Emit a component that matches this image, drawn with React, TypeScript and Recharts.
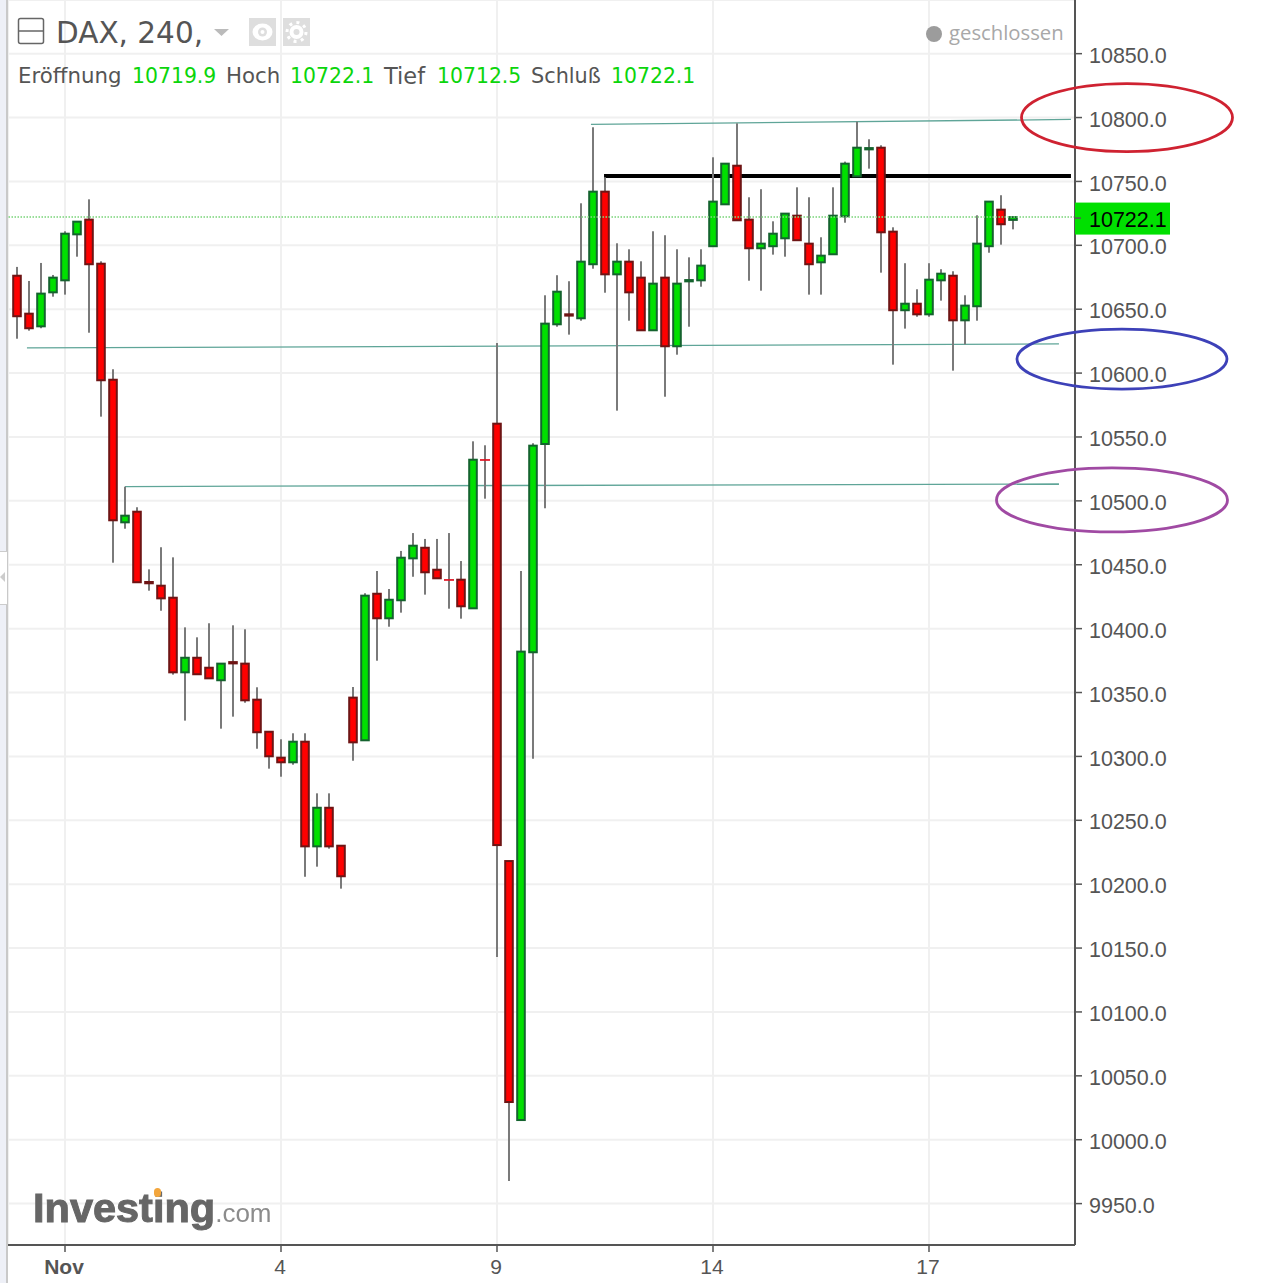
import React from "react";
import {
  Bar,
  CartesianGrid,
  ComposedChart,
  ReferenceDot,
  ReferenceLine,
  XAxis,
  YAxis,
} from "recharts";

const opens = [
  10676.2, 10646.5, 10636.6, 10663.2, 10672.6, 10708.6, 10720.1, 10685.6, 10594.8, 10483.2,
  10491.5, 10436.5, 10433.6, 10424.2, 10365.8, 10377.2, 10369.4, 10359.6, 10373.8, 10372.6,
  10344.4, 10319.3, 10299, 10295.4, 10311.5, 10229.6, 10259.8, 10230.1, 10346, 10312.6,
  10427.3, 10408.1, 10422.2, 10455, 10463.3, 10446.1, 10438.1, 10438.3, 10415.9, 10532,
  10560.4, 10218.1, 10015.4, 10381.5, 10544.5, 10638.2, 10646, 10642.9, 10685.2, 10742,
  10677.3, 10687.2, 10674.7, 10633.5, 10674.7, 10621, 10671.8, 10672.6, 10699.3, 10732.1,
  10762.3, 10720.1, 10697.7, 10699.3, 10705.5, 10723.2, 10701.3, 10686.7, 10693, 10722.7,
  10754, 10775.1, 10776.4, 10710.7, 10649.2, 10654.3, 10646, 10672.6, 10676.2, 10641.3,
  10652.3, 10699.3, 10727.9, 10719.9,
];
const closes = [
  10644.5, 10635.1, 10662.2, 10674.7, 10709.1, 10718.5, 10685.2, 10594.4, 10484.8, 10488.4,
  10436.3, 10435.5, 10423.7, 10365.8, 10377.2, 10364.3, 10361.1, 10372.6, 10372.8, 10343.9,
  10318.9, 10300.1, 10295.4, 10311.5, 10229.6, 10259.8, 10229.6, 10206.2, 10311, 10425.8,
  10408.1, 10422.6, 10455.5, 10464.9, 10444.1, 10439.4, 10438.1, 10417.5, 10532.2, 10532,
  10230.6, 10029.5, 10382, 10543.2, 10638.7, 10663.7, 10645, 10687.2, 10742, 10677.3,
  10687.2, 10663.2, 10633.5, 10670, 10621, 10670, 10672.8, 10684.1, 10734.2, 10763.9,
  10719.6, 10697.7, 10701.3, 10709.1, 10724.8, 10704, 10685.2, 10691.9, 10723.2, 10763.9,
  10776.4, 10776.1, 10710.2, 10649.2, 10654.3, 10646, 10673.1, 10677.8, 10641.3, 10652.8,
  10701.3, 10734.2, 10716.5, 10722.1,
];
const highs = [
  10683.1, 10672.1, 10686.2, 10676.8, 10711, 10718.5, 10736, 10687.5, 10603, 10511.1,
  10495, 10446.4, 10463.7, 10455.8, 10401, 10393.2, 10404.2, 10372.6, 10402.6, 10399.5,
  10354.1, 10319.3, 10313.4, 10318.1, 10318.1, 10271.1, 10271.1, 10230.1, 10354.3, 10427.7,
  10445.1, 10431, 10460.8, 10474.8, 10470.2, 10470.2, 10474.8, 10452.9, 10546.6, 10543.5,
  10623.6, 10218.1, 10445.1, 10545.1, 10660.9, 10676.6, 10671.9, 10732.9, 10792.4, 10753.3,
  10701.6, 10696.9, 10687.5, 10711, 10707.9, 10696.9, 10690.6, 10696.9, 10768.9, 10763.9,
  10795.5, 10737.6, 10743.9, 10718.8, 10724.8, 10745.4, 10737.6, 10706.3, 10745.4, 10765.5,
  10796.8, 10783, 10778.3, 10714.1, 10686, 10665.6, 10686, 10681.3, 10679.7, 10660.9,
  10723.5, 10734.2, 10739.2, 10722.1,
];
const lows = [
  10626.9, 10633.2, 10635.1, 10659.8, 10661.4, 10691.1, 10631.6, 10565.9, 10451.6, 10478.2,
  10436, 10429.7, 10414, 10364, 10328, 10364.3, 10361.1, 10321.7, 10331.1, 10342,
  10306, 10290.4, 10284.1, 10293.5, 10205.8, 10213.7, 10227.8, 10196.5, 10296.6, 10312.6,
  10374.9, 10401.5, 10412.5, 10440.6, 10426.6, 10439.4, 10415.6, 10407.8, 10415.9, 10501.7,
  10143, 9967.7, 10015.4, 10298.2, 10494.2, 10636.3, 10630.1, 10641, 10681.7, 10662.9,
  10570.6, 10641, 10633.5, 10633.5, 10581.5, 10614.4, 10636.3, 10667.6, 10699.3, 10732.1,
  10719.6, 10672.3, 10664.5, 10692.7, 10691.1, 10704, 10661.4, 10661.4, 10693, 10717.7,
  10754, 10760, 10678.6, 10606.6, 10634.8, 10644.1, 10644.1, 10656.7, 10601.9, 10622.5,
  10641, 10694.2, 10700.5, 10712.5,
];

const priceTicks = [
  9950, 10000, 10050, 10100, 10150, 10200, 10250, 10300, 10350, 10400, 10450, 10500, 10550,
  10600, 10650, 10700, 10750, 10800, 10850,
];
const dateTicks = [4, 22, 40, 58, 76];
const dateLabels = ["Nov", "4", "9", "14", "17"];
const lastPrice = 10722.1;

const candles = opens.map((open, i) => ({
  i,
  open,
  close: closes[i],
  high: highs[i],
  low: lows[i],
}));

const GREY = "#555";
const AXIS_FONT = "'Liberation Sans', Arial, sans-serif";
const HEADER_FONT = "'DejaVu Sans', sans-serif";

const Candle = (props: any) => {
  const { x, y, width, height, payload } = props;
  const cx = x + width / 2;
  const perUnit = height / (payload.high - payload.low);
  const top = y + (payload.high - Math.max(payload.open, payload.close)) * perUnit;
  const bottom = y + (payload.high - Math.min(payload.open, payload.close)) * perUnit;
  const up = payload.close > payload.open;
  return (
    <g>
      <line x1={cx} x2={cx} y1={y} y2={y + height} stroke="#7a7a7a" strokeWidth={2} />
      {payload.open === payload.close ? (
        <line x1={cx - 5} x2={cx + 5} y1={top} y2={top} stroke="#e01020" strokeWidth={1.7} />
      ) : (
        <rect
          x={cx - 3.8}
          y={top}
          width={7.6}
          height={bottom - top}
          fill={up ? "#00e000" : "#ff0000"}
          stroke={up ? "#14632e" : "#6e1414"}
          strokeWidth={2}
        />
      )}
    </g>
  );
};

const PriceTick = ({ x, y, payload }: any) => (
  <text x={x} y={y + 1.5} dy=".355em" fill={GREY} fontSize={21.5} fontFamily={AXIS_FONT}>
    {payload.value.toFixed(1)}
  </text>
);

const DateTick = ({ x, y, payload, index }: any) => (
  <text
    x={x - 1}
    y={y + 13}
    dy=".355em"
    textAnchor="middle"
    fill={GREY}
    fontSize={21}
    fontWeight={index === 0 ? 700 : 400}
    fontFamily={AXIS_FONT}
  >
    {dateLabels[dateTicks.indexOf(payload.value)]}
  </text>
);

const Ring = ({ color, rx, ry }: { color: string; rx: number; ry: number }) => (props: any) => (
  <ellipse cx={props.cx} cy={props.cy} rx={rx} ry={ry} fill="none" stroke={color} strokeWidth={2.8} />
);

const PriceTag = (props: any) => (
  <g>
    <rect x={props.cx} y={props.cy - 14.5} width={95} height={32} fill="#00e000" />
    <line x1={props.cx} x2={props.cx + 6} y1={props.cy + 1} y2={props.cy + 1} stroke={GREY} strokeWidth={1.5} />
    <text x={props.cx + 14} y={props.cy + 2.5} dy=".355em" fill="#000" fontSize={21.5} fontFamily={AXIS_FONT}>
      {lastPrice.toFixed(1)}
    </text>
  </g>
);

const legendItems = [
  { left: 18, text: "Eröffnung", color: GREY, size: 21.3 },
  { left: 132, text: "10719.9", color: "#0bd50b", size: 20.4 },
  { left: 226, text: "Hoch", color: GREY, size: 21.3 },
  { left: 290, text: "10722.1", color: "#0bd50b", size: 20.4 },
  { left: 384, text: "Tief", color: GREY, size: 22.5 },
  { left: 437, text: "10712.5", color: "#0bd50b", size: 20.4 },
  { left: 531, text: "Schluß", color: GREY, size: 20.8 },
  { left: 611, text: "10722.1", color: "#0bd50b", size: 20.4 },
];

const Header = () => (
  <>
    <svg style={{ position: "absolute", left: 0, top: 0 }} width={330} height={56}>
      <rect x={18.5} y={18.5} width={25} height={25} rx={2} fill="#fff" stroke="#666" strokeWidth={1.5} />
      <line x1={19} x2={43} y1={31} y2={31} stroke="#666" strokeWidth={1.5} />
      <path d="M214 29 L229 29 L221.5 36 Z" fill="#bbb" />
      <rect x={249} y={18} width={27} height={28} fill="#dedede" />
      <ellipse cx={262.5} cy={32} rx={10} ry={8.5} fill="#fff" />
      <circle cx={262.5} cy={32} r={4.5} fill="#dedede" />
      <circle cx={262.5} cy={32} r={2} fill="#fff" />
      <rect x={283} y={18} width={27} height={28} fill="#dedede" />
      <circle cx={296.5} cy={32} r={7} fill="#fff" />
      <circle cx={296.5} cy={32} r={9.5} fill="none" stroke="#fff" strokeWidth={3} strokeDasharray="3 4.4" />
      <circle cx={296.5} cy={32} r={3} fill="#dedede" />
    </svg>
    <div style={{ position: "absolute", left: 56, top: 16, fontFamily: HEADER_FONT, fontSize: 29.5, color: GREY, whiteSpace: "pre" }}>
      DAX, 240,
    </div>
    {legendItems.map((item) => (
      <div
        key={item.left}
        style={{ position: "absolute", left: item.left, top: 63, height: 26, lineHeight: "26px", fontFamily: HEADER_FONT, fontSize: item.size, color: item.color, whiteSpace: "pre" }}
      >
        {item.text}
      </div>
    ))}
    <div style={{ position: "absolute", left: 926, top: 26, width: 16, height: 16, borderRadius: 8, background: "#9c9c9c" }} />
    <div style={{ position: "absolute", left: 949, top: 18, fontFamily: "'Open Sans', sans-serif", fontSize: 20.3, color: "#a8a8a8", whiteSpace: "pre" }}>
      geschlossen
    </div>
  </>
);

const Watermark = () => (
  <div style={{ position: "absolute", left: 33, top: 1184, whiteSpace: "pre", fontFamily: AXIS_FONT, filter: "blur(0.7px)", lineHeight: "48px" }}>
    <span style={{ fontSize: 41.5, fontWeight: 700, color: "#666", WebkitTextStroke: "1px #666" }}>Investing</span>
    <span style={{ fontSize: 26, color: "#8c8c8c" }}>.com</span>
    <div style={{ position: "absolute", left: 121, top: 4, width: 7, height: 9, borderRadius: 4, background: "#f3a63c" }} />
  </div>
);

const SideRail = () => (
  <>
    <div style={{ position: "absolute", left: 0, top: 0, width: 6, height: 1283, background: "#eef0f7" }} />
    <div style={{ position: "absolute", left: 6, top: 0, width: 2, height: 1283, background: "#c9c9c9" }} />
    <div style={{ position: "absolute", left: 0, top: 551, width: 7, height: 52, background: "#fff", borderTop: "1px solid #ccc", borderBottom: "1px solid #ccc" }} />
    <svg style={{ position: "absolute", left: 0, top: 570 }} width={7} height={14}>
      <path d="M0 7 L5 2 L5 12 Z" fill="#ccc" />
    </svg>
  </>
);

export default function App() {
  return (
    <div style={{ position: "absolute", left: 0, top: 0, width: 1271, height: 1283, background: "#fff", overflow: "hidden" }}>
      <ComposedChart
        width={1271}
        height={1283}
        data={candles}
        margin={{ top: 0, right: 0, bottom: 0, left: 8 }}
      >
        <CartesianGrid stroke="#f0f0f0" strokeWidth={2} />
        <XAxis
          dataKey="i"
          type="number"
          domain={[-0.75, 88.1667]}
          allowDataOverflow
          ticks={dateTicks}
          interval={0}
          height={38}
          tick={DateTick}
          tickSize={7}
          tickMargin={2}
          axisLine={{ stroke: GREY, strokeWidth: 2 }}
          tickLine={{ stroke: GREY, strokeWidth: 1.5 }}
        />
        <YAxis
          orientation="right"
          type="number"
          domain={[9917.6, 10892]}
          allowDataOverflow
          ticks={priceTicks}
          interval={0}
          width={196}
          tick={PriceTick}
          tickSize={7}
          tickMargin={7}
          axisLine={{ stroke: GREY, strokeWidth: 2 }}
          tickLine={{ stroke: GREY, strokeWidth: 1.5 }}
        />
        <ReferenceLine zIndex={50} ifOverflow="visible" stroke="#5fa598" strokeWidth={1.3} segment={[{ x: 47.83, y: 10794.6 }, { x: 87.83, y: 10798.5 }]} />
        <ReferenceLine zIndex={50} ifOverflow="visible" stroke="#5fa598" strokeWidth={1.3} segment={[{ x: 0.83, y: 10619.7 }, { x: 86.83, y: 10622.8 }]} />
        <ReferenceLine zIndex={50} ifOverflow="visible" stroke="#5fa598" strokeWidth={1.3} segment={[{ x: 9, y: 10511.2 }, { x: 86.83, y: 10513.2 }]} />
        <ReferenceLine zIndex={50} ifOverflow="visible" stroke="#000" strokeWidth={4} segment={[{ x: 48.92, y: 10754.3 }, { x: 87.83, y: 10754.3 }]} />
        <Bar
          dataKey={(d: any) => [d.low, d.high]}
          barSize={10}
          shape={Candle}
          isAnimationActive={false}
        />
        <ReferenceLine y={lastPrice} stroke="#7fd67f" strokeWidth={2} strokeDasharray="1.5 1.5" strokeOpacity={0.8} />
        <ReferenceDot x={88.1667} y={lastPrice} ifOverflow="visible" shape={PriceTag} />
        <ReferenceDot x={92.5} y={10800} ifOverflow="visible" shape={Ring({ color: "#cf2231", rx: 105.5, ry: 34 })} />
        <ReferenceDot x={92.08} y={10611} ifOverflow="visible" shape={Ring({ color: "#3d41b8", rx: 105, ry: 30 })} />
        <ReferenceDot x={91.25} y={10500.7} ifOverflow="visible" shape={Ring({ color: "#a04aa3", rx: 115.5, ry: 32 })} />
      </ComposedChart>
      <SideRail />
      <Header />
      <Watermark />
    </div>
  );
}
